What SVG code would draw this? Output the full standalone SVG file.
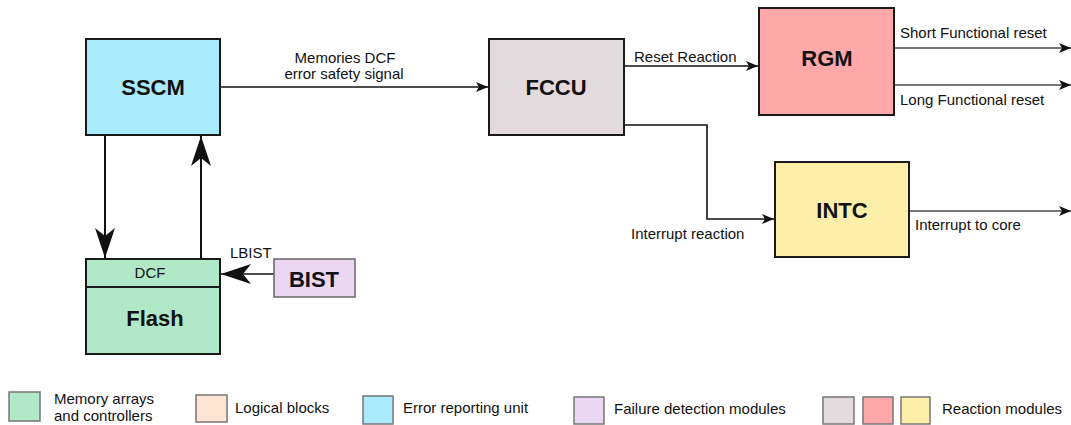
<svg xmlns="http://www.w3.org/2000/svg" width="1071" height="425" viewBox="0 0 1071 425">
  <style>
    .node { stroke: #1a1a1a; stroke-width: 2; }
    .title { font-family: "Liberation Sans", Arial, sans-serif; font-weight: bold; font-size: 22px; fill: #111; text-anchor: middle; }
    .lbl { font-family: "Liberation Sans", Arial, sans-serif; font-size: 15px; fill: #111; }
    .wire { fill: none; stroke: #111; stroke-width: 1.6; }
    .wire-big { fill: none; stroke: #111; stroke-width: 2; }
    .grey { fill: none; stroke: #777; stroke-width: 2; }
    .key { stroke: #777; stroke-width: 1.5; }
  </style>
  <defs>
    <marker id="arrow" viewBox="0 0 12 10" refX="12" refY="5" markerWidth="12" markerHeight="10" markerUnits="userSpaceOnUse" orient="auto">
      <path d="M0,0 L12,5 L0,10 L3,5 Z" fill="#111"/>
    </marker>
    <marker id="stealth" viewBox="0 0 30 20" refX="30" refY="10" markerWidth="30" markerHeight="20" markerUnits="userSpaceOnUse" orient="auto">
      <path d="M0,0 L30,10 L0,20 L8,10 Z" fill="#111"/>
    </marker>
  </defs>

  <rect width="1071" height="425" fill="#ffffff"/>

  <!-- connectors -->
  <g id="connectors">
    <line class="wire-big" x1="105" y1="135" x2="105" y2="258" marker-end="url(#stealth)"/>
    <line class="wire-big" x1="201" y1="258" x2="201" y2="136" marker-end="url(#stealth)"/>
    <line class="wire" x1="274" y1="274" x2="221" y2="274" marker-end="url(#stealth)"/>
    <line class="wire" x1="220" y1="87" x2="488" y2="87" marker-end="url(#arrow)"/>
    <line class="wire" x1="624" y1="66" x2="758" y2="66" marker-end="url(#arrow)"/>
    <polyline class="wire" points="624,125 707,125 707,219 774,219" marker-end="url(#arrow)"/>
    <line class="grey" x1="894" y1="48" x2="1071" y2="48" marker-end="url(#arrow)"/>
    <line class="grey" x1="894" y1="85" x2="1071" y2="85" marker-end="url(#arrow)"/>
    <line class="grey" x1="909" y1="211" x2="1071" y2="211" marker-end="url(#arrow)"/>

    <text class="lbl" x="345" y="63" text-anchor="middle">Memories DCF</text>
    <text class="lbl" x="344" y="79" text-anchor="middle">error safety signal</text>
    <text class="lbl" x="634" y="62">Reset Reaction</text>
    <text class="lbl" x="900" y="38">Short Functional reset</text>
    <text class="lbl" x="900" y="105">Long Functional reset</text>
    <text class="lbl" x="915" y="230">Interrupt to core</text>
    <text class="lbl" x="631" y="239">Interrupt reaction</text>
    <text class="lbl" x="230" y="258">LBIST</text>
  </g>

  <!-- nodes -->
  <g id="sscm">
    <rect class="node" x="86" y="39" width="134" height="96" fill="#aaecfd"/>
    <text class="title" x="153" y="95">SSCM</text>
  </g>
  <g id="flash">
    <rect class="node" x="86" y="259" width="134" height="95" fill="#b1e8c8"/>
    <line class="node" x1="86" y1="287" x2="220" y2="287"/>
    <text class="lbl" x="150" y="278" text-anchor="middle">DCF</text>
    <text class="title" x="155" y="326">Flash</text>
  </g>
  <g id="bist">
    <rect x="274" y="259" width="81" height="38" fill="#ebd7f2" stroke="#666" stroke-width="1.5"/>
    <text class="title" x="314" y="287">BIST</text>
  </g>
  <g id="fccu">
    <rect class="node" x="489" y="39" width="135" height="96" fill="#e3dadd"/>
    <text class="title" x="556" y="95">FCCU</text>
  </g>
  <g id="rgm">
    <rect class="node" x="759" y="8" width="135" height="107" fill="#ffa8aa"/>
    <text class="title" x="827" y="66">RGM</text>
  </g>
  <g id="intc">
    <rect class="node" x="775" y="162" width="134" height="95" fill="#fdeeaa"/>
    <text class="title" x="842" y="218">INTC</text>
  </g>

  <!-- legend -->
  <g id="legend">
    <rect class="key" x="9" y="392" width="31" height="29" fill="#b1e8c8"/>
    <text class="lbl" x="54" y="404">Memory arrays</text>
    <text class="lbl" x="54" y="421">and controllers</text>
    <rect class="key" x="196" y="395" width="31" height="27" fill="#ffe4d3"/>
    <text class="lbl" x="235" y="413">Logical blocks</text>
    <rect class="key" x="363" y="396" width="30" height="28" fill="#aaecfd"/>
    <text class="lbl" x="403" y="413">Error reporting unit</text>
    <rect class="key" x="574" y="397" width="30" height="27" fill="#ebd7f2"/>
    <text class="lbl" x="614" y="414">Failure detection modules</text>
    <rect class="key" x="823" y="397" width="31" height="27" fill="#e3dadd"/>
    <rect class="key" x="863" y="397" width="30" height="27" fill="#ffa8aa"/>
    <rect class="key" x="901" y="397" width="29" height="27" fill="#fdeeaa"/>
    <text class="lbl" x="942" y="414">Reaction modules</text>
  </g>
</svg>
